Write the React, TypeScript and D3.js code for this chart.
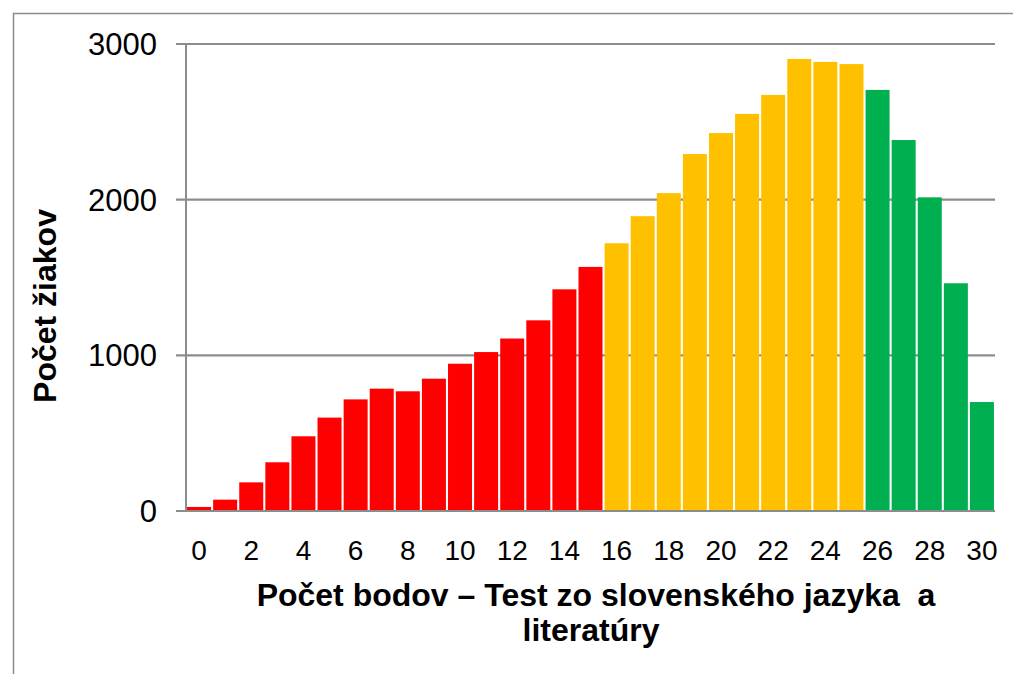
import React from "react";
import * as d3 from "d3";

// points 0..30 and number of pupils per score
const points: number[] = d3.range(0, 31);
const pupils: number[] = [
  26, 73, 184, 313, 480, 600, 717, 786, 769, 850, 946, 1021, 1108, 1225, 1424, 1568,
  1720, 1894, 2042, 2293, 2428, 2551, 2673, 2904, 2885, 2871,
  2705, 2383, 2015, 1463, 700,
];
const yTicks: number[] = [0, 1000, 2000, 3000];
const xTickLabels: number[] = [0, 2, 4, 6, 8, 10, 12, 14, 16, 18, 20, 22, 24, 26, 28, 30];

const colorFor = (p: number) => (p <= 15 ? "#FF0000" : p <= 25 ? "#FFC000" : "#00B050");

const W = 1013, H = 674;
const margins = { top: 44, right: 18, bottom: 163, left: 186 };

export default function App() {
  const innerW = W - margins.left - margins.right;
  const x = d3.scaleBand<number>().domain(points).range([margins.left, margins.left + innerW]).paddingInner(0.08).paddingOuter(0.04);
  const y = d3.scaleLinear().domain([0, 3000]).range([H - margins.bottom, margins.top]);
  const font = "'Liberation Sans', Arial, sans-serif";
  const gridColor = "#8c8c8c";

  return (
    <svg width={W} height={H} style={{ position: "absolute", left: 0, top: 0 }} fontFamily={font}>
      <rect x={0} y={0} width={W} height={H} fill="#fff" />
      {/* outer chart frame */}
      <rect x={13.5} y={13.5} width={W + 10} height={H + 10} fill="none" stroke="#8c8c8c" strokeWidth={1.5} />

      {/* gridlines + y labels */}
      {yTicks.map(t => (
        <g key={t}>
          <line x1={margins.left - 10} x2={margins.left + innerW} y1={y(t)} y2={y(t)} stroke={gridColor} strokeWidth={2.2} />
          <text x={157} y={y(t)} dy="0.36em" textAnchor="end" fontSize={31} fill="#000">{t}</text>
        </g>
      ))}
      {/* y axis line */}
      <line x1={margins.left} x2={margins.left} y1={y(3000)} y2={y(0)} stroke={gridColor} strokeWidth={2} />

      {/* bars */}
      {points.map((p, i) => (
        <rect key={p} x={x(p)} y={y(pupils[i])} width={x.bandwidth()} height={y(0) - y(pupils[i])} fill={colorFor(p)} />
      ))}
      <line x1={margins.left - 10} x2={margins.left + innerW} y1={y(0)} y2={y(0)} stroke={gridColor} strokeWidth={2.2} />

      {/* x tick labels */}
      {xTickLabels.map(p => (
        <text key={p} x={(x(p) as number) + x.bandwidth() / 2} y={560} textAnchor="middle" fontSize={28} fill="#000">{p}</text>
      ))}

      {/* axis titles */}
      <text x={596} y={606} textAnchor="middle" fontSize={32} fontWeight="bold" fill="#000" style={{ whiteSpace: "pre" }}>Počet bodov – Test zo slovenského jazyka  a</text>
      <text x={591} y={641} textAnchor="middle" fontSize={32} fontWeight="bold" fill="#000">literatúry</text>
      <text transform="translate(56,306) rotate(-90)" textAnchor="middle" fontSize={32} fontWeight="bold" fill="#000">Počet žiakov</text>
    </svg>
  );
}
